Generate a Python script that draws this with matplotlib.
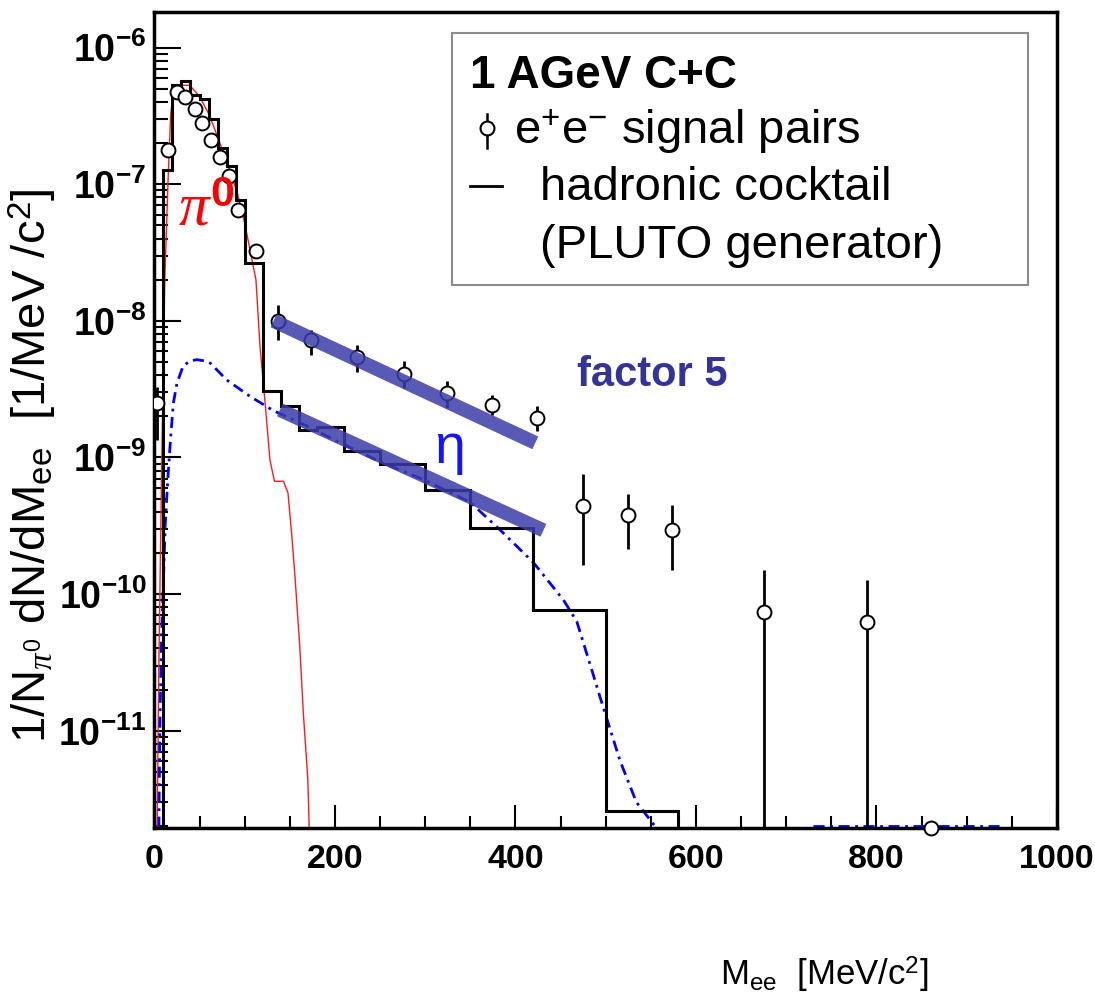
import numpy as np
import matplotlib
matplotlib.use("Agg")
import matplotlib.pyplot as plt
from matplotlib.lines import Line2D
from matplotlib.patches import Rectangle
from matplotlib.ticker import FixedLocator, MultipleLocator, LogLocator, NullFormatter

plt.rcParams['font.family'] = ['Liberation Sans', 'DejaVu Sans']
plt.rcParams['mathtext.fontset'] = 'custom'
plt.rcParams['mathtext.rm'] = 'Liberation Sans'
plt.rcParams['mathtext.bf'] = 'Liberation Sans:bold'
plt.rcParams['mathtext.it'] = 'Liberation Serif:italic'
plt.rcParams['hatch.color'] = '#23237a'
plt.rcParams['hatch.linewidth'] = 0.6

# hadronic cocktail histogram (black steps)
hist_edges = [10, 20, 30, 40, 50, 60, 70, 80, 90, 100, 120, 140, 160, 180,
              210, 250, 300, 350, 420, 500, 580]
hist_vals = [1.27e-7, 5.33e-7, 5.74e-7, 4.5e-7, 4.2e-7, 3.0e-7, 1.84e-7,
             1.35e-7, 7.7e-8, 2.67e-8, 3.05e-9, 2.37e-9, 1.6e-9, 1.68e-9,
             1.11e-9, 8.9e-10, 5.8e-10, 3.05e-10, 7.6e-11, 2.58e-12]

# pi0 Dalitz contribution (red)
pi0_x = [3, 5, 8, 10, 11.6, 15.3, 18, 21, 28, 39, 50, 61, 72.6, 82, 92, 100,
         106, 112.5, 117, 123, 128, 133, 143, 148, 152, 156, 161, 165, 170, 171.5]
pi0_y = [1.95e-12, 3.2e-11, 7.8e-10, 5.0e-9, 2.1e-8, 1.14e-7, 3.2e-7, 4.8e-7,
         5.3e-7, 5.3e-7, 4.4e-7, 3.2e-7, 2.0e-7, 1.35e-7, 8.6e-8, 5.2e-8,
         3.3e-8, 2.0e-8, 6.5e-9, 2.37e-9, 9.6e-10, 6.7e-10, 6.7e-10, 5.5e-10,
         2.8e-10, 1.28e-10, 4.2e-11, 1.35e-11, 4.4e-12, 1.95e-12]

# eta Dalitz contribution (blue dash-dot)
eta_x = [5, 6, 8, 10, 12, 15, 18, 21, 25, 32, 40, 47, 55, 62, 80, 106, 132,
         169, 205, 250, 298, 350, 383, 420, 453, 468, 486, 494, 516, 534, 556]
eta_y = [1.95e-12, 1.0e-11, 5.0e-11, 1.26e-10, 3.2e-10, 7.2e-10, 1.4e-9,
         2.5e-9, 3.5e-9, 4.7e-9, 5.1e-9, 5.2e-9, 5.1e-9, 4.9e-9, 3.7e-9,
         2.8e-9, 2.2e-9, 1.7e-9, 1.29e-9, 9.3e-10, 6.9e-10, 4.7e-10, 2.95e-10,
         1.7e-10, 9.1e-11, 6.3e-11, 2.6e-11, 1.74e-11, 6.0e-12, 3.0e-12, 1.95e-12]
eta_tail_x = [730, 940]
eta_tail_y = [2.0e-12, 2.0e-12]

# e+e- signal pairs
data_x = [3, 15, 25, 34, 45, 53, 63, 73, 83, 93, 113, 137, 174, 224, 276, 324,
          374, 424, 475, 525, 574, 675, 789]
data_y = [2.5e-9, 1.78e-7, 4.77e-7, 4.38e-7, 3.54e-7, 2.8e-7, 2.11e-7, 1.58e-7,
          1.14e-7, 6.5e-8, 3.24e-8, 9.9e-9, 7.2e-9, 5.4e-9, 4.08e-9, 2.96e-9,
          2.43e-9, 1.94e-9, 4.43e-10, 3.77e-10, 2.93e-10, 7.4e-11, 6.3e-11]
data_lo = [1.35e-9, 1.78e-7, 4.77e-7, 4.38e-7, 3.54e-7, 2.8e-7, 2.11e-7, 1.58e-7,
           1.14e-7, 6.5e-8, 3.24e-8, 7.2e-9, 5.65e-9, 4.26e-9, 3.23e-9, 2.3e-9,
           2.06e-9, 1.55e-9, 1.64e-10, 2.14e-10, 1.51e-10, 1e-13, 1e-13]
data_hi = [3.3e-9, 1.78e-7, 4.77e-7, 4.38e-7, 3.54e-7, 2.8e-7, 2.11e-7, 1.58e-7,
           1.14e-7, 6.5e-8, 3.24e-8, 1.3e-8, 8.6e-9, 6.7e-9, 5.05e-9, 3.6e-9,
           2.88e-9, 2.37e-9, 7.6e-10, 5.4e-10, 4.5e-10, 1.5e-10, 1.26e-10]
# point sitting on the lower frame
floor_x = [860]
floor_y = [1.95e-12]

# exponential slope bands
band_up_x = [132, 422]
band_up_y = [1.0e-8, 1.28e-9]
band_low_x = [139, 431]
band_low_y = [2.23e-9, 2.93e-10]

ytick_vals = [1e-11, 1e-10, 1e-9, 1e-8, 1e-7, 1e-6]
ytick_labels = [r'$\mathbf{10^{-11}}$', r'$\mathbf{10^{-10}}$', r'$\mathbf{10^{-9}}$',
                r'$\mathbf{10^{-8}}$', r'$\mathbf{10^{-7}}$', r'$\mathbf{10^{-6}}$']
xtick_vals = [0, 200, 400, 600, 800, 1000]

fig = plt.figure(figsize=(10.95, 10.07), dpi=100)
ax = fig.add_axes([0.141, 0.178, 0.8243, 0.810])
ax.set_yscale('log')
ax.set_xlim(0, 1000)
ax.set_ylim(1.95e-12, 1.82e-6)

ax.stairs(hist_vals, hist_edges, baseline=1e-14, color='black', lw=2.2, zorder=3)
ax.plot(pi0_x, pi0_y, color='#ff1a1a', lw=1.0, zorder=2)
ax.plot(eta_x, eta_y, color='#0000ff', lw=2.0, linestyle=(0, (4, 2, 1, 2)), zorder=2)
ax.plot(eta_tail_x, eta_tail_y, color='#0000ff', lw=2.0, linestyle=(0, (4, 2, 1, 2)), zorder=2)

yerr = [np.array(data_y) - np.array(data_lo), np.array(data_hi) - np.array(data_y)]
ax.errorbar(data_x, data_y, yerr=yerr, fmt='o', ms=10, mfc='white', mec='black',
            mew=1.4, ecolor='black', elinewidth=2.0, capsize=0, zorder=4)
ax.plot(floor_x, floor_y, 'o', ms=10, mfc='white', mec='black', mew=1.4,
        zorder=4, clip_on=False)

# bands drawn as hatched quadrilaterals of constant screen thickness
fig.canvas.draw()
half = 7.0
for bx, by in [(band_up_x, band_up_y), (band_low_x, band_low_y)]:
    p = ax.transData.transform(np.column_stack([bx, by]))
    d = p[1] - p[0]
    n = np.array([-d[1], d[0]]) / np.hypot(*d) * half
    quad = np.array([p[0] + n, p[1] + n, p[1] - n, p[0] - n])
    quad = ax.transData.inverted().transform(quad)
    ax.fill(quad[:, 0], quad[:, 1], facecolor='#3c3caa', edgecolor='none',
            alpha=0.85, hatch='+', zorder=5)

# annotations
ax.text(26, 4.97e-8, r'$\pi^{\mathbf{0}}$', color='#ff0000', fontsize=44,
        ha='left', va='baseline', zorder=6)
ax.text(327, 1.16e-9, 'η', color='#1414ff', fontsize=40, ha='center', va='center', zorder=6)
ax.text(552, 4.0e-9, 'factor 5', color='#333399', fontsize=30, fontweight='bold',
        ha='center', va='center', zorder=6)

# axes styling
for sp in ['left', 'bottom', 'right', 'top']:
    ax.spines[sp].set_linewidth(2.5)
ax.xaxis.set_major_locator(FixedLocator(xtick_vals))
ax.xaxis.set_minor_locator(MultipleLocator(50))
ax.set_xticklabels([str(v) for v in xtick_vals], fontsize=24.5, fontweight='bold')
ax.yaxis.set_major_locator(FixedLocator(ytick_vals))
ax.set_yticklabels(ytick_labels, fontsize=27)
ax.yaxis.set_minor_locator(LogLocator(base=10, subs=np.arange(2, 10)))
ax.yaxis.set_minor_formatter(NullFormatter())
ax.tick_params(axis='x', which='major', direction='in', length=16.5, width=1.5, pad=12)
ax.tick_params(axis='x', which='minor', direction='in', length=8.6, width=1.5)
ax.tick_params(axis='y', which='major', direction='in', length=19.5, width=1.5, pad=6)
ax.tick_params(axis='y', which='minor', direction='in', length=10, width=1.5)

fig.text(33 / 1095, 1 - 466 / 1007,
         r'1/N$_{\pi^{0}}$ dN/dM$_{\mathrm{ee}}$  [1/MeV /c$^{2}$]',
         rotation=90, fontsize=34, ha='center', va='center')
fig.text(824 / 1095, 1 - 975 / 1007, r'M$_{\mathrm{ee}}$  [MeV/c$^{2}$]',
         fontsize=25, ha='center', va='center')

# legend box
W, H = 1095.0, 1007.0
fig.add_artist(Rectangle((452 / W, 1 - 285 / H), (1028 - 452) / W, (285 - 33) / H,
                         transform=fig.transFigure, facecolor='white',
                         edgecolor='#8c8c8c', lw=1.5, zorder=7))
fig.text(470 / W, 1 - 76 / H, '1 AGeV C+C', fontsize=33, fontweight='bold',
         ha='left', va='center', zorder=8)
fig.add_artist(Line2D([487 / W, 487 / W], [1 - 114 / H, 1 - 148 / H],
                      transform=fig.transFigure, color='black', lw=1.8, zorder=8))
fig.add_artist(Line2D([487 / W], [1 - 128 / H], transform=fig.transFigure,
                      marker='o', ms=10, mfc='white', mec='black', mew=1.5, zorder=9))
fig.text(514 / W, 1 - 131 / H, r'e$^{+}$e$^{-}$ signal pairs', fontsize=34,
         ha='left', va='center', zorder=8)
fig.add_artist(Line2D([470 / W, 502 / W], [1 - 186 / H, 1 - 186 / H],
                      transform=fig.transFigure, color='black', lw=2.0, zorder=8))
fig.text(540 / W, 1 - 188 / H, 'hadronic cocktail', fontsize=34,
         ha='left', va='center', zorder=8)
fig.text(540 / W, 1 - 246 / H, '(PLUTO generator)', fontsize=34,
         ha='left', va='center', zorder=8)

fig.savefig('out.png', dpi=100)
